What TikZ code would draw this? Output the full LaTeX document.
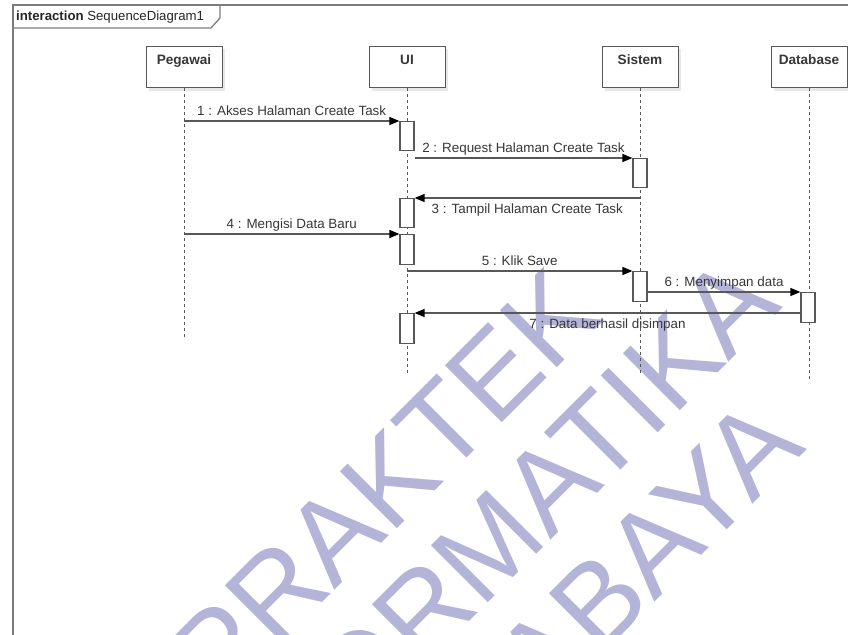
\documentclass[tikz,border=0pt]{standalone}
\usepackage{fontspec}
\setmainfont{Liberation Sans}
\usetikzlibrary{arrows.meta,shadows}
\definecolor{wm}{RGB}{180,180,217}
\definecolor{ln}{RGB}{88,88,88}
\definecolor{tx}{RGB}{55,55,55}
\definecolor{frm}{RGB}{125,125,125}
\begin{document}
\begin{tikzpicture}[x=1pt,y=-1pt,
  head/.style={draw=ln, fill=white, line width=1pt, minimum width=76pt, minimum height=41pt,
    anchor=north, inner sep=0pt,
    drop shadow={shadow xshift=3pt, shadow yshift=-3pt, fill=black!9, opacity=1}},
  headlbl/.style={font=\fontsize{13.6}{15}\selectfont\bfseries, text=tx, anchor=base, inner sep=0pt},
  life/.style={draw=ln, line width=0.9pt, dash pattern=on 3pt off 3pt},
  act/.style={draw=ln, fill=white, line width=1.2pt, minimum width=14pt, inner sep=0pt, anchor=north},
  msg/.style={draw=ln, line width=1.3pt, -{Triangle[length=10pt,width=8pt,color=black]}},
  mlbl/.style={font=\fontsize{13.4}{15}\selectfont, text=tx, anchor=base, inner sep=0pt},
  wmk/.style={font=\fontsize{117}{117}\selectfont, text=wm, rotate=45, anchor=base, inner sep=0pt}
]
\useasboundingbox (0,0) rectangle (848,634);
\clip (0,0) rectangle (848,634);
\fill[white] (0,0) rectangle (848,634);

% watermark
\node[wmk] (wm1) at (413,512) {PRAKTEK};
\node[wmk] (wm2) at (504,587) {INFORMATIKA};
\node[wmk] (wm3) at (589,668) {SURABAYA};

% frame
\coordinate (fbl) at (13,650);
\coordinate (ftl) at (13,5);
\coordinate (ftr) at (860,5);
\draw[frm, line width=1.6pt] (fbl) -- (ftl) -- (ftr);
\coordinate (t1) at (13,28);
\coordinate (t2) at (211,28);
\coordinate (t3) at (220,18);
\coordinate (t4) at (220,5);
\draw[frm, line width=1.3pt] (t1) -- (t2) -- (t3) -- (t4);
\node[anchor=base west, inner sep=0pt, font=\fontsize{13.2}{15}\selectfont, text=black!85] (title) at (16,21)
  {\textbf{interaction} SequenceDiagram1};

% heads
\node[head] (peg) at (184,46) {};
\node[head] (ui) at (407,46) {};
\node[head] (sis) at (640,46) {};
\node[head] (db) at (809,46) {};
\node[headlbl] (pegl) at (184,65) {Pegawai};
\node[headlbl] (uil) at (407,65) {UI};
\node[headlbl] (sisl) at (640,65) {Sistem};
\node[headlbl] (dbl) at (809,65) {Database};

% lifelines
\coordinate (pegend) at (184,340);
\coordinate (uiend) at (407,375);
\coordinate (sisend) at (640,375);
\coordinate (dbend) at (809,380);
\draw[life] (peg.south) -- (pegend);
\draw[life] (ui.south) -- (uiend);
\draw[life] (sis.south) -- (sisend);
\draw[life] (db.south) -- (dbend);

% activations
\node[act, minimum height=29pt] (u1) at (407,121) {};
\node[act, minimum height=29pt] (s1) at (640,158) {};
\node[act, minimum height=29pt] (u2) at (407,198) {};
\node[act, minimum height=30pt] (u3) at (407,234) {};
\node[act, minimum height=30pt] (s2) at (640,271) {};
\node[act, minimum height=30pt] (d1) at (808,292) {};
\node[act, minimum height=30pt] (u4) at (407,313) {};

% messages
\draw[msg] (peg |- u1.north west) -- (u1.north west)
  node[mlbl, midway, yshift=6pt] (m1) {1 : Akses Halaman Create Task};
\draw[msg] (u1.east |- s1.north) -- (s1.north west)
  node[mlbl, midway, yshift=6pt] (m2) {2 : Request Halaman Create Task};
\draw[msg] (sis |- u2.north) -- (u2.north east)
  node[mlbl, midway, yshift=-15pt] (m3) {3 : Tampil Halaman Create Task};
\draw[msg] (peg |- u3.north west) -- (u3.north west)
  node[mlbl, midway, yshift=6pt] (m4) {4 : Mengisi Data Baru};
\draw[msg] (ui |- s2.north) -- (s2.north west)
  node[mlbl, midway, yshift=6pt] (m5) {5 : Klik Save};
\draw[msg] (s2.east |- d1.north) -- (d1.north west)
  node[mlbl, midway, yshift=6pt] (m6) {6 : Menyimpan data};
\draw[msg] (d1.north west |- u4.north) -- (u4.north east)
  node[mlbl, midway, yshift=-15pt] (m7) {7 : Data berhasil disimpan};
\end{tikzpicture}
\end{document}
